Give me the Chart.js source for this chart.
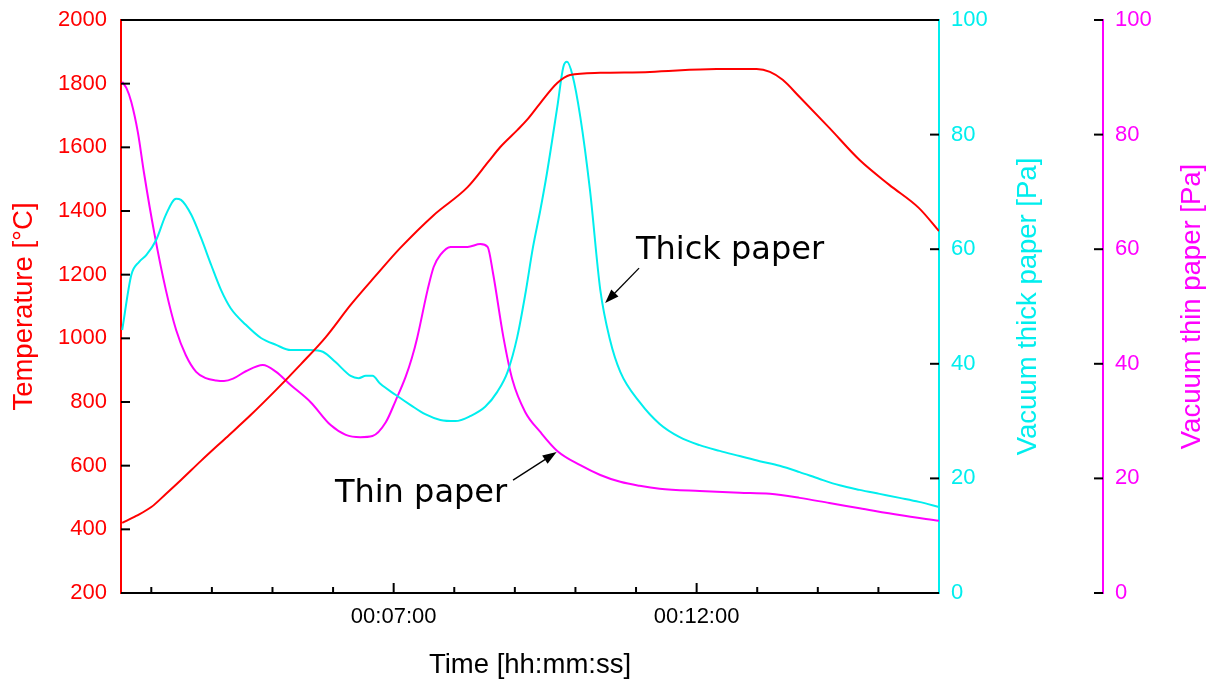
<!DOCTYPE html>
<html>
<head>
<meta charset="utf-8">
<script src="https://cdn.jsdelivr.net/npm/chart.js@4/dist/chart.umd.min.js"></script>
<style>
  body { margin: 0; background: #fff; }
  canvas { display: block; }
</style>
</head>
<body>
<canvas id="chart" width="1213" height="686"></canvas>
<script>
// time in minutes
var tempTime = [2.52, 2.75, 3.00, 3.24, 3.49, 3.82, 4.23, 4.64, 5.06, 5.47, 5.88, 6.29, 6.70, 7.11, 7.66, 8.22, 8.56, 8.76, 9.04, 9.20, 9.42, 9.70, 9.91, 10.41, 11.23, 12.33, 12.99, 13.21, 13.42, 13.70, 14.19, 14.69, 15.18, 15.67, 16.00];
var tempValues = [420, 442, 470, 511, 555, 615, 687, 759, 838, 919, 1004, 1105, 1196, 1284, 1387, 1475, 1554, 1601, 1654, 1686, 1739, 1802, 1827, 1834, 1837, 1846, 1846, 1837, 1812, 1758, 1661, 1560, 1482, 1409, 1337];

var thickTime = [2.52, 2.67, 2.80, 2.92, 3.08, 3.24, 3.41, 3.49, 3.66, 3.82, 3.99, 4.15, 4.31, 4.56, 4.81, 5.06, 5.30, 5.63, 5.83, 6.04, 6.29, 6.42, 6.54, 6.65, 6.78, 7.03, 7.28, 7.52, 7.77, 8.02, 8.27, 8.51, 8.71, 8.88, 9.04, 9.17, 9.30, 9.42, 9.53, 9.70, 9.80, 9.86, 9.95, 10.08, 10.24, 10.41, 10.57, 10.74, 11.06, 11.39, 11.72, 12.05, 12.38, 12.71, 13.04, 13.37, 13.70, 14.03, 14.36, 14.69, 15.02, 15.35, 15.67, 16.00];
var thickValues = [45.9, 55.5, 57.8, 59.0, 61.6, 66.0, 68.8, 68.6, 66.0, 62.0, 57.2, 52.9, 49.7, 46.8, 44.5, 43.3, 42.4, 42.4, 42.1, 40.3, 37.9, 37.5, 37.9, 37.9, 36.5, 34.6, 32.8, 31.2, 30.2, 30.0, 30.9, 32.5, 35.1, 38.6, 44.7, 52.0, 60.4, 66.8, 73.3, 84.8, 91.8, 92.7, 90.4, 83.1, 70.3, 52.9, 44.2, 38.6, 33.3, 29.5, 27.2, 25.8, 24.8, 23.9, 23.0, 22.2, 21.1, 19.9, 18.8, 18.0, 17.3, 16.6, 15.9, 15.0];

var thinTime = [2.52, 2.59, 2.67, 2.78, 2.88, 3.05, 3.24, 3.41, 3.57, 3.74, 3.90, 4.07, 4.20, 4.35, 4.56, 4.84, 5.06, 5.30, 5.63, 5.96, 6.21, 6.45, 6.65, 6.87, 7.03, 7.20, 7.30, 7.39, 7.56, 7.66, 7.77, 7.94, 8.22, 8.43, 8.55, 8.64, 8.81, 8.96, 9.17, 9.42, 9.70, 10.08, 10.41, 10.74, 11.06, 11.39, 12.05, 12.71, 13.21, 13.70, 14.19, 14.69, 15.35, 16.00];
var thinValues = [89.2, 88.1, 85.7, 80.3, 73.3, 62.8, 52.9, 45.9, 41.5, 38.6, 37.5, 37.1, 37.0, 37.4, 38.7, 39.8, 38.6, 36.3, 33.3, 29.3, 27.6, 27.2, 27.4, 29.8, 33.5, 37.8, 41.0, 44.6, 52.9, 56.9, 59.0, 60.4, 60.4, 60.9, 60.4, 55.8, 44.7, 37.2, 31.6, 28.1, 24.8, 22.3, 20.6, 19.4, 18.7, 18.2, 17.8, 17.5, 17.3, 16.6, 15.7, 14.8, 13.6, 12.6];

var xLabeled = { 7: "00:07:00", 12: "00:12:00" };

// annotations: [time, value] on the given axis
var noteLabels = ["Thick paper", "Thin paper"];
var noteAxis = ["y1", "y2"];
var noteText = [[11.0, 58.3], [6.03, 15.9]];
var noteTail = [[11.05, 56.7], [8.97, 19.7]];
var noteTip = [[10.49, 50.6], [9.69, 24.6]];

var RED = "#ff0000";
var CYAN = "#00eeee";
var MAGENTA = "#ff00ff";
var SANS = "'Liberation Sans', Arial, sans-serif";

function toPoints(xs, ys) {
  return xs.map(function (x, i) { return { x: x, y: ys[i] }; });
}

function line(ctx, x1, y1, x2, y2) {
  ctx.beginPath();
  ctx.moveTo(x1, y1);
  ctx.lineTo(x2, y2);
  ctx.stroke();
}

var extras = {
  id: "extras",
  afterDraw: function (chart) {
    var ctx = chart.ctx;
    var a = chart.chartArea;
    var s = chart.scales;
    ctx.save();
    ctx.strokeStyle = "#000";
    ctx.lineWidth = 2;
    line(ctx, a.left, a.top, a.right, a.top);

    //inward tick marks
    s.y.ticks.forEach(function (t) {
      var py = s.y.getPixelForValue(t.value);
      line(ctx, a.left, py, a.left + 9, py);
    });
    s.y1.ticks.forEach(function (t) {
      var py = s.y1.getPixelForValue(t.value);
      line(ctx, a.right - 9, py, a.right, py);
    });
    var x2 = s.y2.left;
    s.y2.ticks.forEach(function (t) {
      var py = s.y2.getPixelForValue(t.value);
      line(ctx, x2 - 9, py, x2, py);
    });
    s.x.ticks.forEach(function (t) {
      if (t.value >= s.x.max) return;
      var px = s.x.getPixelForValue(t.value);
      var len = xLabeled[t.value] ? 10 : 6;
      line(ctx, px, a.bottom, px, a.bottom - len);
    });

    //right axis titles, reading upwards
    var midY = (a.top + a.bottom) / 2;
    ctx.font = "27.5px " + SANS;
    ctx.textAlign = "center";
    ctx.textBaseline = "middle";
    [["Vacuum thick paper [Pa]", s.y1.left + 89, CYAN], ["Vacuum thin paper [Pa]", s.y2.left + 89, MAGENTA]].forEach(function (tt) {
      ctx.save();
      ctx.translate(tt[1], midY);
      ctx.rotate(-Math.PI / 2);
      ctx.fillStyle = tt[2];
      ctx.fillText(tt[0], 0, 0);
      ctx.restore();
    });

    //annotations with arrows
    ctx.font = "32px 'DejaVu Sans', Verdana, sans-serif";
    ctx.textAlign = "left";
    ctx.textBaseline = "alphabetic";
    ctx.fillStyle = "#000";
    ctx.lineWidth = 1.3;
    for (var i = 0; i < noteLabels.length; i++) {
      var ys = s[noteAxis[i]];
      ctx.fillText(noteLabels[i], s.x.getPixelForValue(noteText[i][0]), ys.getPixelForValue(noteText[i][1]));
      var tx = s.x.getPixelForValue(noteTail[i][0]), ty = ys.getPixelForValue(noteTail[i][1]);
      var hx = s.x.getPixelForValue(noteTip[i][0]), hy = ys.getPixelForValue(noteTip[i][1]);
      var ang = Math.atan2(hy - ty, hx - tx);
      line(ctx, tx, ty, hx - 8 * Math.cos(ang), hy - 8 * Math.sin(ang));
      ctx.beginPath();
      ctx.moveTo(hx, hy);
      ctx.lineTo(hx - 14 * Math.cos(ang) + 5 * Math.sin(ang), hy - 14 * Math.sin(ang) - 5 * Math.cos(ang));
      ctx.lineTo(hx - 14 * Math.cos(ang) - 5 * Math.sin(ang), hy - 14 * Math.sin(ang) + 5 * Math.cos(ang));
      ctx.closePath();
      ctx.fill();
    }
    ctx.restore();
  }
};

var tickFont = { family: SANS, size: 22 };
var titleFont = { family: SANS, size: 27.5 };
var noGrid = { drawOnChartArea: false, drawTicks: false };
var plain = function (v) { return String(v); };

function fitY(width) {
  return function (sc) {
    sc.width = width;
    sc.paddingTop = 0;
    sc.paddingBottom = 0;
  };
}

new Chart(document.getElementById("chart"), {
  type: "line",
  data: {
    datasets: [
      { label: "Temperature", data: toPoints(tempTime, tempValues), yAxisID: "y", borderColor: RED },
      { label: "Vacuum thick paper", data: toPoints(thickTime, thickValues), yAxisID: "y1", borderColor: CYAN },
      { label: "Vacuum thin paper", data: toPoints(thinTime, thinValues), yAxisID: "y2", borderColor: MAGENTA }
    ]
  },
  options: {
    responsive: false,
    animation: false,
    devicePixelRatio: 1,
    layout: { padding: { top: 20, left: 0, right: 0, bottom: 0 } },
    elements: {
      point: { radius: 0 },
      line: { borderWidth: 2, cubicInterpolationMode: "monotone", fill: false }
    },
    plugins: { legend: { display: false }, tooltip: { enabled: false } },
    scales: {
      x: {
        type: "linear",
        min: 2.5,
        max: 16,
        grid: noGrid,
        border: { color: "#000", width: 2 },
        afterFit: function (sc) { sc.height = 93; sc.paddingLeft = 0; sc.paddingRight = 0; },
        ticks: {
          stepSize: 1,
          includeBounds: false,
          autoSkip: false,
          maxRotation: 0,
          padding: 11,
          color: "#000",
          font: tickFont,
          callback: function (v) { return xLabeled[v] || ""; }
        },
        title: { display: true, text: "Time [hh:mm:ss]", color: "#000", font: titleFont, padding: { top: 0, bottom: 4 } }
      },
      y: {
        position: "left",
        min: 200,
        max: 2000,
        grid: noGrid,
        border: { color: RED, width: 2 },
        afterFit: fitY(121),
        ticks: { stepSize: 200, padding: 14, color: RED, font: tickFont, callback: plain },
        title: { display: true, text: "Temperature [°C]", color: RED, font: titleFont, padding: { top: 8, bottom: 0 } }
      },
      y1: {
        position: "right",
        min: 0,
        max: 100,
        grid: noGrid,
        border: { color: CYAN, width: 2 },
        afterFit: fitY(164),
        ticks: { stepSize: 20, padding: 12, color: CYAN, font: tickFont, callback: plain }
      },
      y2: {
        position: "right",
        min: 0,
        max: 100,
        grid: noGrid,
        border: { color: MAGENTA, width: 2 },
        afterFit: fitY(110),
        ticks: { stepSize: 20, padding: 12, color: MAGENTA, font: tickFont, callback: plain }
      }
    }
  },
  plugins: [extras]
});
</script>
</body>
</html>
